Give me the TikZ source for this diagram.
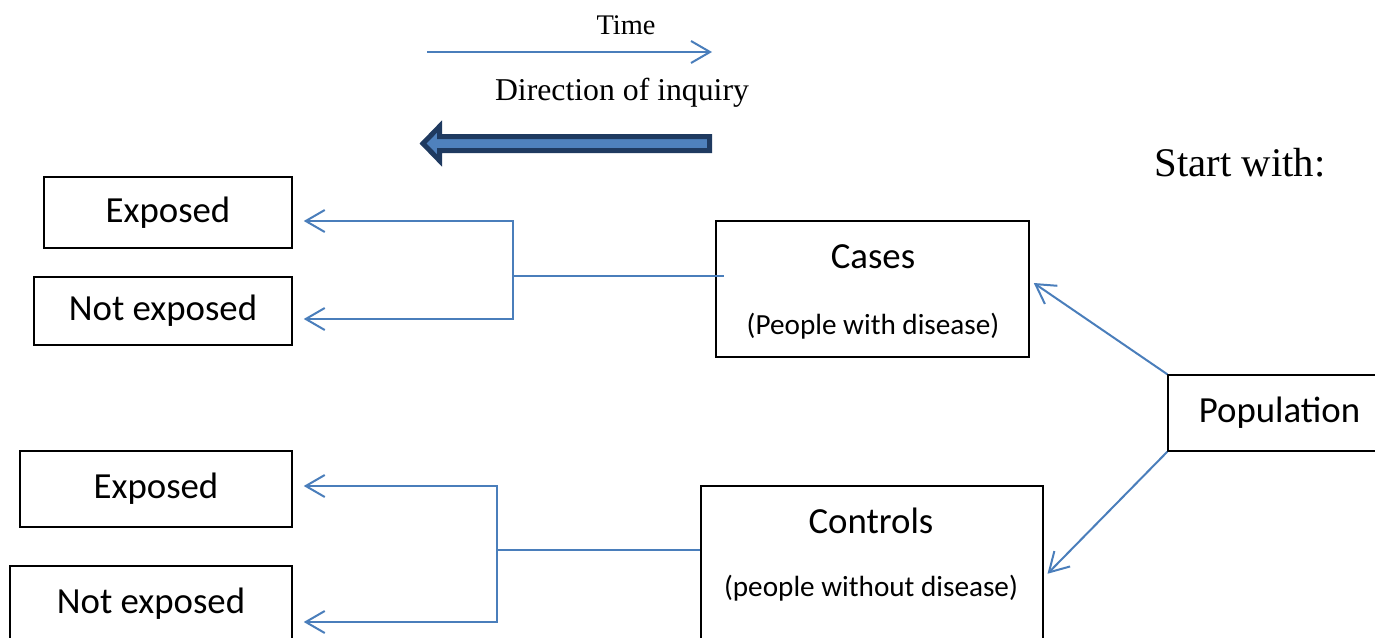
\documentclass[tikz,border=0pt]{standalone}
\usepackage{fontspec}
\setmainfont{Liberation Serif}
\newfontfamily\calibri{Carlito}
\usetikzlibrary{positioning,arrows.meta}
\definecolor{lnblue}{HTML}{4A7EBB}
\definecolor{arrfill}{HTML}{4F81BD}
\definecolor{arrdraw}{HTML}{1F3A60}

\begin{document}
\begin{tikzpicture}[x=1pt,y=-1pt,
 box/.style={draw, line width=1.5pt, inner sep=0pt, font=\calibri\fontsize{36.8}{44}\selectfont},
 big/.style={inner sep=0pt, font=\calibri\fontsize{36.8}{44}\selectfont},
 sub/.style={inner sep=0pt, font=\calibri\fontsize{29.2}{35}\selectfont},
 con/.style={draw=lnblue, line width=2pt},
 tip/.style={-{Straight Barb[length=19pt,width=22pt]}}]
\useasboundingbox (0,0) rectangle (1375,637);
\clip (0,0) rectangle (1375,637);
%time and direction of inquiry
\node[font=\fontsize{28.4}{34}\selectfont] (time) at (626,25) {Time};
\coordinate (t0) at (427,52);
\coordinate (t1) at (712,52);
\draw[con,tip] (t0) -- (t1);
\node[font=\fontsize{31.75}{38}\selectfont] (dir) at (622,93) {Direction of inquiry};
\draw[draw=arrdraw, fill=arrfill, line width=5pt, line join=miter] (709.5,136.5) -- (439.5,136.5) -- (439.5,126.5) -- (423,143.5) -- (439.5,160.5) -- (439.5,150.5) -- (709.5,150.5) -- cycle;
\node[font=\fontsize{40.7}{48}\selectfont] (start) at (1240,163) {Start with:};
%boxes on the left
\foreach \n/\x/\y/\w/\h/\t in {exp1/168/212.5/248/71/Exposed, nexp1/163/311/258/68/Not exposed, exp2/156/489/272/76/Exposed, nexp2/151/604/282/76/Not exposed}{\node[box, minimum width=\w pt, minimum height=\h pt] (\n) at (\x,\y) {\t};}
%cases and controls
\node[box, minimum width=313pt, minimum height=136pt] (cases) at (872.5,289) {};
\node[big] at (873,257) {Cases};
\node[sub] at (873,326) {(People with disease)};
\node[box, minimum width=342pt, minimum height=190pt, anchor=north west] (controls) at (700,485) {};
\node[big] at (871,521) {Controls};
\node[sub] at (871,588) {(people without disease)};
\node[box, minimum width=223pt, minimum height=76pt] (pop) at (1279.5,413) {Population};
%connectors for cases
\coordinate (cj) at (513,276);
\draw[con] (cj) -- ([xshift=9pt]cj -| cases.west);
\foreach \j/\s in {exp1/-8.5,nexp1/-8}{\draw[con,tip,shorten >=11pt] (cj) |- ([yshift=\s pt]\j.east);}
%connectors for controls
\coordinate (kj) at (497,550);
\draw[con] (kj) -- (kj -| controls.west);
\foreach \j/\s in {exp2/3,nexp2/-18}{\draw[con,tip,shorten >=11pt] (kj) |- ([yshift=\s pt]\j.east);}
%from population
\draw[con,tip] (pop.north west) -- ([xshift=4pt,yshift=6pt]cases.east);
\draw[con,tip] (pop.south west) -- ([xshift=4pt,yshift=7pt]controls.east);
\end{tikzpicture}
\end{document}
